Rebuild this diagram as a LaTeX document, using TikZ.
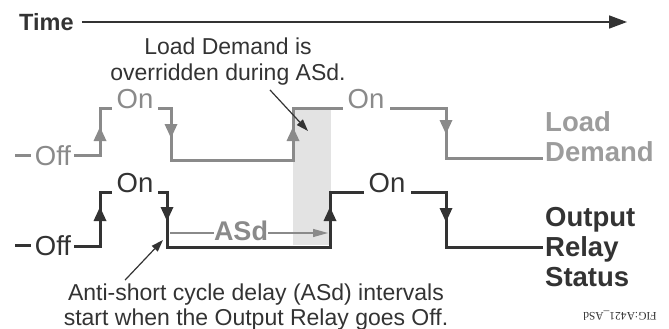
\documentclass[tikz,border=0pt]{standalone}
\usepackage{fontspec}
\setmainfont{Liberation Sans}
\newfontfamily\figfont{Liberation Serif}
\usetikzlibrary{positioning, arrows.meta, calc}

\definecolor{ldgray}{HTML}{8A8A8A}
\definecolor{ldlabel}{HTML}{9C9C9C}
\definecolor{ordark}{HTML}{333333}
\definecolor{asdshade}{HTML}{E3E3E3}

\begin{document}
\begin{tikzpicture}[x=1pt, y=-1pt]
	% 定义样式
	\tikzset{
		trace/.style = {line width=3pt, draw=#1, line join=miter},
		state/.style = {font=\fontsize{27.5}{30}\selectfont, inner sep=0pt},
		sig label/.style = {font=\bfseries\fontsize{27.5}{30}\selectfont, inner sep=0pt, anchor=base west},
		note/.style = {font=\fontsize{23}{26}\selectfont, text=ordark, inner sep=0pt, anchor=base},
		note arrow/.style = {draw=ordark, line width=1.2pt, -{Triangle[width=8pt, length=12pt]}}
	}
	\useasboundingbox (0,0) rectangle (669,329);
	
	% 时间轴
	\node[font=\bfseries\fontsize{23.5}{26}\selectfont, text=ordark, inner sep=0pt, anchor=west] (timeLbl) at (19,22) {Time};
	\coordinate (timeEnd) at (627,22);
	\draw[draw=ordark, line width=1.6pt, -{Triangle[width=13pt, length=18pt]}] ([xshift=8pt]timeLbl.east) -- (timeLbl.east -| timeEnd);
	
	% ASd 阴影区
	\fill[asdshade] (293,108) rectangle (331,245);
	
	% 说明文字
	\node[note] (noteA) at (228,55) {Load Demand is};
	\node[note] (noteB) at (228,81) {overridden during ASd.};
	\node[note] (noteC) at (256,300) {Anti-short cycle delay (ASd) intervals};
	\node[note] (noteD) at (256,325) {start when the Output Relay goes Off.};
	
	% Load Demand 曲线
	\draw[trace=ldgray] (15,155) -- (31,155);
	\node[state, text=ldgray] (offG) at (53,156) {Off};
	\draw[trace=ldgray] (74,155) -- (100,155) -- (100,108) -- (112,108);
	\node[state, text=ldgray, anchor=base] (onG1) at (135,108) {On};
	\draw[trace=ldgray] (158,108) -- (171,108) -- (171,160) -- (293,160) -- (293,108) -- (343,108);
	\node[state, text=ldgray, anchor=base] (onG2) at (366,108) {On};
	\draw[trace=ldgray] (390,108) -- (446,108) -- (446,158) -- (543,158);
	% 箭头: x / 尖端 y / 方向 (1 向上, -1 向下)
	\foreach \x/\y/\d in {100/127/1, 171/138/-1, 293/127/1, 446/134/-1} {
		\fill[ldgray] (\x,\y) -- ++(-6.5,\d*14) -- ++(13,0) -- cycle;
	}
	\node[sig label, text=ldlabel] (loadLbl) at (545,131) {Load};
	\node[sig label, text=ldlabel] (demandLbl) at (545,161) {Demand};
	
	% Output Relay 曲线
	\draw[trace=ordark] (15,245) -- (31,245);
	\node[state, text=ordark] (offR) at (53,246) {Off};
	\draw[trace=ordark] (74,246) -- (100,246) -- (100,192) -- (112,192);
	\node[state, text=ordark, anchor=base] (onR1) at (135,192) {On};
	\draw[trace=ordark] (158,192) -- (167,192) -- (167,247) -- (330,247) -- (330,192) -- (364,192);
	\node[state, text=ordark, anchor=base] (onR2) at (387,192) {On};
	\draw[trace=ordark] (411,192) -- (446,192) -- (446,247) -- (543,247);
	\foreach \x/\y/\d in {100/207/1, 167/221/-1, 330/207/1, 446/222/-1} {
		\fill[ordark] (\x,\y) -- ++(-6.5,\d*14) -- ++(13,0) -- cycle;
	}
	\node[sig label, text=ordark] (outLbl) at (545,226) {Output};
	\node[sig label, text=ordark] (relayLbl) at (545,256) {Relay};
	\node[sig label, text=ordark] (statusLbl) at (545,286) {Status};
	
	% ASd 间隔
	\node[font=\bfseries\fontsize{27}{30}\selectfont, text=ldgray, inner sep=0pt] (asd) at (241,231) {ASd};
	\coordinate (asdStart) at (170,233);
	\coordinate (asdEnd) at (328,233);
	\draw[draw=ldgray, line width=1.2pt] (asdStart) -- (asdStart -| asd.west);
	\draw[draw=ldgray, line width=1.2pt, -{Triangle[width=8pt, length=15pt]}] (asdEnd -| asd.east) -- (asdEnd);
	
	% 指示箭头
	\coordinate (shadeTip) at (308,131);
	\coordinate (cornerTip) at (163,240);
	\draw[note arrow] ($(noteB.south)+(42,4)$) -- (shadeTip);
	\draw[note arrow] ($(noteC.north)+(-131,-3)$) -- (cornerTip);
	
	% 图号
	\node[font=\figfont\fontsize{11.5}{13}\selectfont, text=ordark, rotate=180, inner sep=0pt] (figId) at (620,316) {FIG:A421\_ASd};
\end{tikzpicture}
\end{document}
